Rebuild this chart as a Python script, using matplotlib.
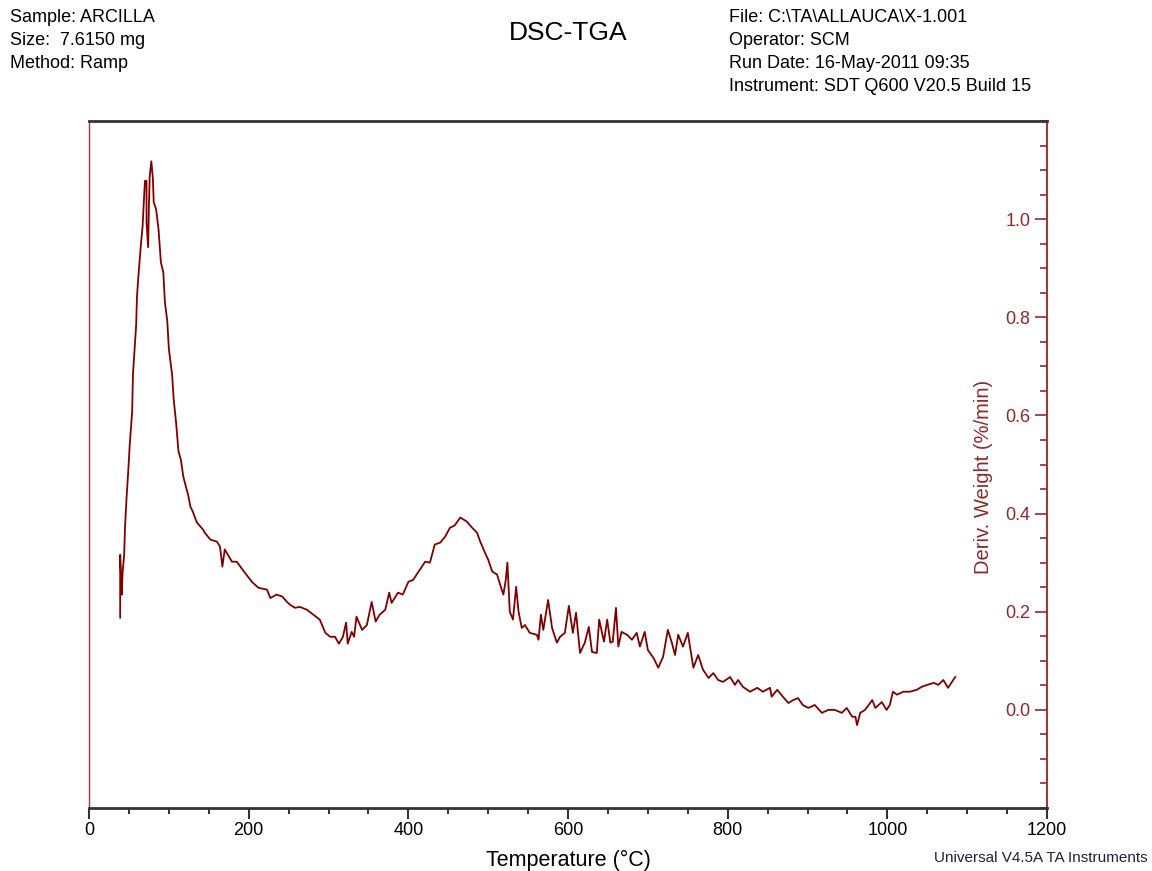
import matplotlib
matplotlib.use("Agg")
import matplotlib.pyplot as plt
from matplotlib.ticker import MultipleLocator

plt.rcParams['font.family'] = ['Liberation Sans', 'DejaVu Sans']

# Deriv. weight curve (temperature in C, %/min)
temp = [39, 39, 41, 42, 44, 45, 47, 49, 51, 54, 55, 57, 59, 60, 62, 65, 67, 69, 70,
        72, 72, 74, 75, 76, 78, 80, 81, 84, 87, 90, 93, 95, 98, 100, 104, 106, 109,
        112, 115, 118, 120, 124, 127, 130, 135, 143, 145, 152, 160, 164, 167, 170,
        179, 185, 195, 204, 212, 223, 227, 235, 242, 248, 252, 258, 264, 273, 281,
        289, 296, 302, 308, 313, 318, 322, 324, 329, 332, 335, 342, 348, 354, 359,
        364, 371, 376, 379, 387, 393, 400, 406, 412, 421, 427, 433, 440, 446, 452,
        458, 465, 473, 480, 486, 490, 496, 500, 505, 511, 515, 519, 522, 524, 527,
        531, 535, 538, 542, 546, 552, 561, 563, 566, 569, 575, 580, 586, 590, 596,
        601, 606, 610, 615, 621, 626, 630, 636, 639, 645, 649, 653, 656, 660, 663,
        667, 674, 680, 686, 690, 696, 700, 707, 713, 719, 725, 730, 734, 738, 744,
        750, 757, 763, 769, 776, 782, 788, 794, 803, 809, 813, 819, 828, 837, 844,
        853, 855, 862, 869, 876, 882, 888, 894, 901, 909, 918, 926, 934, 943, 949,
        956, 960, 962, 966, 972, 981, 985, 993, 999, 1003, 1007, 1012, 1020, 1028,
        1037, 1043, 1050, 1058, 1064, 1070, 1076, 1081, 1085]
deriv = [0.188, 0.316, 0.235, 0.280, 0.316, 0.371, 0.433, 0.484, 0.541, 0.608,
         0.684, 0.735, 0.784, 0.841, 0.888, 0.949, 0.984, 1.045, 1.078, 1.078,
         0.994, 0.943, 1.027, 1.088, 1.118, 1.082, 1.035, 1.020, 0.980, 0.912,
         0.892, 0.831, 0.792, 0.735, 0.684, 0.633, 0.586, 0.527, 0.510, 0.476,
         0.463, 0.439, 0.414, 0.404, 0.382, 0.367, 0.361, 0.347, 0.343, 0.333,
         0.292, 0.327, 0.302, 0.302, 0.280, 0.261, 0.249, 0.245, 0.228, 0.235,
         0.231, 0.220, 0.214, 0.208, 0.210, 0.204, 0.194, 0.184, 0.157, 0.149,
         0.149, 0.135, 0.149, 0.178, 0.135, 0.159, 0.149, 0.190, 0.163, 0.173,
         0.220, 0.180, 0.194, 0.204, 0.239, 0.218, 0.239, 0.235, 0.261, 0.265,
         0.280, 0.302, 0.300, 0.337, 0.341, 0.353, 0.371, 0.376, 0.392, 0.384,
         0.371, 0.361, 0.343, 0.320, 0.306, 0.282, 0.276, 0.255, 0.235, 0.265,
         0.300, 0.200, 0.184, 0.251, 0.200, 0.167, 0.173, 0.157, 0.153, 0.143,
         0.194, 0.163, 0.224, 0.167, 0.137, 0.149, 0.157, 0.212, 0.157, 0.198,
         0.116, 0.137, 0.169, 0.118, 0.116, 0.184, 0.139, 0.184, 0.137, 0.139,
         0.208, 0.129, 0.159, 0.153, 0.143, 0.157, 0.129, 0.159, 0.122, 0.106,
         0.086, 0.108, 0.163, 0.137, 0.112, 0.153, 0.129, 0.157, 0.086, 0.112,
         0.082, 0.065, 0.075, 0.061, 0.057, 0.067, 0.051, 0.061, 0.047, 0.037,
         0.045, 0.037, 0.045, 0.027, 0.041, 0.027, 0.014, 0.020, 0.024, 0.010,
         0.004, 0.010, -0.006, 0.000, 0.000, -0.006, 0.004, -0.014, -0.014,
         -0.031, -0.006, 0.000, 0.020, 0.004, 0.016, 0.000, 0.010, 0.037, 0.031,
         0.037, 0.037, 0.041, 0.047, 0.051, 0.055, 0.051, 0.061, 0.045, 0.057,
         0.067]
yticks = [0.0, 0.2, 0.4, 0.6, 0.8, 1.0]
left_info = ['Sample: ARCILLA', 'Size:  7.6150 mg', 'Method: Ramp']
right_info = ['File: C:\\TA\\ALLAUCA\\X-1.001', 'Operator: SCM',
              'Run Date: 16-May-2011 09:35', 'Instrument: SDT Q600 V20.5 Build 15']

line_col = '#800000'
axis_red = '#9a3a3a'
label_red = '#8c2a2a'
dark = '#333333'

fig = plt.figure(figsize=(11.52, 8.71), dpi=100)
ax = fig.add_axes([0.0773, 0.0723, 0.8316, 0.7887])

ax.plot(temp, deriv, color=line_col, lw=1.3)

ax.set_xlim(0, 1200)
ax.set_ylim(-0.2, 1.2)

# x axis: outward ticks on the bottom
ax.xaxis.set_major_locator(MultipleLocator(200))
ax.xaxis.set_minor_locator(MultipleLocator(50))
ax.tick_params(axis='x', which='major', direction='out', length=8, width=1.5,
               color=dark, labelsize=13, pad=2)
ax.tick_params(axis='x', which='minor', direction='out', length=4, width=1.5,
               color=dark)
ax.set_xlabel('Temperature (°C)', fontsize=15.5, labelpad=8)

# y axis on the right, ticks and labels inside the frame
ax.yaxis.tick_right()
ax.set_yticks(yticks)
ax.set_yticklabels(['%.1f' % v for v in yticks])
ax.yaxis.set_minor_locator(MultipleLocator(0.05))
ax.tick_params(axis='y', which='major', direction='in', length=9, width=1.3,
               color=axis_red, labelcolor=label_red, labelsize=13, pad=-12)
ax.tick_params(axis='y', which='minor', direction='in', length=5, width=1.3,
               color=axis_red)
for lab in ax.get_yticklabels():
    lab.set_horizontalalignment('right')

ax.text(0.934, 0.482, 'Deriv. Weight (%/min)', transform=ax.transAxes,
        rotation=90, ha='center', va='center', fontsize=14.5, color=label_red)

ax.spines['top'].set_color(dark)
ax.spines['top'].set_linewidth(2)
ax.spines['bottom'].set_color(dark)
ax.spines['bottom'].set_linewidth(2)
ax.spines['left'].set_color(axis_red)
ax.spines['left'].set_linewidth(1)
ax.spines['right'].set_color(axis_red)
ax.spines['right'].set_linewidth(1.5)

# header block
for i, s in enumerate(left_info):
    fig.text(10 / 1152, 1 - (18 + 22.5 * i) / 871, s, fontsize=13,
             ha='left', va='center')
for i, s in enumerate(right_info):
    fig.text(729 / 1152, 1 - (18 + 22.7 * i) / 871, s, fontsize=13,
             ha='left', va='center')
fig.text(568 / 1152, 1 - 33 / 871, 'DSC-TGA', fontsize=19, ha='center', va='center')
fig.text(1148 / 1152, 1 - 858 / 871, 'Universal V4.5A TA Instruments',
         fontsize=11, ha='right', va='center', color='#1e1e44')

fig.savefig('out.png', dpi=100)
